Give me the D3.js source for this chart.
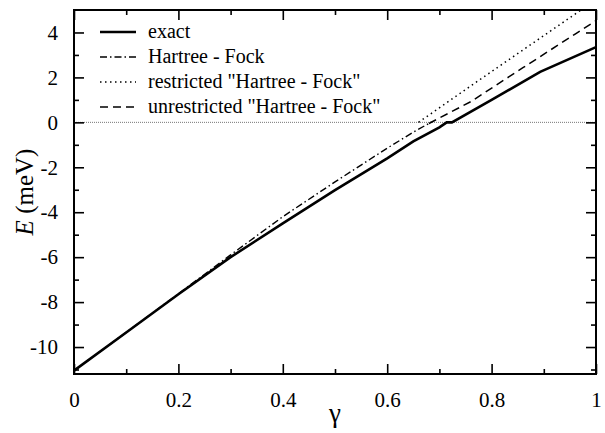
<!DOCTYPE html>
<html><head><meta charset="utf-8">
<script src="https://cdn.jsdelivr.net/npm/d3@7"></script>
<style>
  svg, svg text, svg tspan { font-family: "Liberation Serif", "Times New Roman", Times, serif; }
</style>
</head>
<body style="margin:0">
<svg id="chart" width="605" height="433" font-family="Liberation Serif, serif"></svg>
<script>
// values
var gammaExact = [0, 0.1, 0.2, 0.3, 0.4, 0.5, 0.6, 0.65, 0.7, 0.714, 0.724, 0.8, 0.893, 1.0];
var eExact     = [-11.05, -9.35, -7.65, -6.0, -4.5, -3.02, -1.6, -0.85, -0.22, 0.0, 0.0, 1.0, 2.25, 3.35];

var gammaHF = [0, 0.1, 0.2, 0.3, 0.4, 0.5, 0.6, 0.65, 0.685];
var eHF     = [-11.05, -9.35, -7.63, -5.9, -4.2, -2.65, -1.15, -0.44, 0.02];

var gammaRestricted = [0.66, 0.76, 0.86, 0.96, 1.0];
var eRestricted     = [0.0, 1.62, 3.22, 4.82, 5.45];

var gammaUnrestricted = [0.68, 0.76, 0.86, 0.96, 1.0];
var eUnrestricted     = [-0.05, 0.92, 2.43, 3.93, 4.53];

var xTicks = [0, 0.2, 0.4, 0.6, 0.8, 1];
var xMinor = [0.1, 0.3, 0.5, 0.7, 0.9];
var yTicks = [-10, -8, -6, -4, -2, 0, 2, 4];
var yMinor = [-11, -9, -7, -5, -3, -1, 1, 3];

var legendLabels = ["exact", "Hartree - Fock", "restricted \"Hartree - Fock\"", "unrestricted \"Hartree - Fock\""];

var margin = {top: 10, right: 9, bottom: 59, left: 74},
    width = 605 - margin.left - margin.right,
    height = 433 - margin.top - margin.bottom;

var svg = d3.select("#chart")
  .append("g")
    .attr("transform", "translate(" + margin.left + "," + margin.top + ")");

var x = d3.scaleLinear().domain([0, 1]).range([0, width]);
var y = d3.scaleLinear().domain([-11.2, 5]).range([height, 0]);

// zero line
svg.append("line")
  .attr("x1", 0).attr("x2", width)
  .attr("y1", y(0)).attr("y2", y(0))
  .attr("stroke", "#777")
  .attr("stroke-width", 1)
  .attr("stroke-dasharray", "1,1");

function zip(xs, ys) { return xs.map(function(v, i) { return [v, ys[i]]; }); }

// keep the curves inside the frame
function clipTop(pts) {
  return pts.filter(function(d) { return d[1] <= 5; })
    .concat(pts.filter(function(d) { return d[1] > 5; }).slice(0, 1).map(function(d, i, a) { return d; }));
}

var line = d3.line()
  .x(function(d) { return x(d[0]); })
  .y(function(d) { return Math.max(0, y(d[1])); })
  .defined(function(d) { return y(d[1]) >= -1; });

var series = [
  {pts: zip(gammaExact, eExact), w: 2.6, dash: null},
  {pts: zip(gammaHF, eHF), w: 1.4, dash: "7,3,1.5,3"},
  {pts: zip(gammaRestricted, eRestricted), w: 1.5, dash: "1.5,3.5"},
  {pts: zip(gammaUnrestricted, eUnrestricted), w: 1.5, dash: "8,5"}
];

var curves = svg.append("g");
series.forEach(function(s) {
  curves.append("path")
    .datum(s.pts)
    .attr("fill", "none")
    .attr("stroke", "#000")
    .attr("stroke-width", s.w)
    .attr("stroke-dasharray", s.dash)
    .attr("d", d3.line().x(function(d) { return x(d[0]); }).y(function(d) { return y(d[1]); }));
});
// cover the part of the dotted curve above the frame
svg.append("rect")
  .attr("x", -2).attr("y", -margin.top)
  .attr("width", width + 4).attr("height", margin.top)
  .attr("fill", "#fff");

// axes, ticks pointing inward
var fmt = function(d) { return String(d); };

function styleAxis(g) {
  g.attr("font-family", "Liberation Serif, serif").attr("font-size", 21);
  g.select(".domain").remove();
  g.selectAll("line").attr("stroke", "#000").attr("stroke-width", 1.6);
  g.selectAll("text").attr("fill", "#000");
}

svg.append("g")
  .attr("transform", "translate(0," + height + ")")
  .call(d3.axisBottom(x).tickValues(xTicks).tickSize(-10).tickPadding(18).tickFormat(fmt))
  .call(styleAxis);
svg.append("g")
  .attr("transform", "translate(0," + height + ")")
  .call(d3.axisBottom(x).tickValues(xMinor).tickSize(-5).tickFormat(""))
  .call(styleAxis);
svg.append("g")
  .call(d3.axisTop(x).tickValues(xTicks).tickSize(-10).tickFormat(""))
  .call(styleAxis);
svg.append("g")
  .call(d3.axisTop(x).tickValues(xMinor).tickSize(-5).tickFormat(""))
  .call(styleAxis);

svg.append("g")
  .call(d3.axisLeft(y).tickValues(yTicks).tickSize(-10).tickPadding(16).tickFormat(fmt))
  .call(styleAxis);
svg.append("g")
  .call(d3.axisLeft(y).tickValues(yMinor).tickSize(-5).tickFormat(""))
  .call(styleAxis);
svg.append("g")
  .attr("transform", "translate(" + width + ",0)")
  .call(d3.axisRight(y).tickValues(yTicks).tickSize(-10).tickFormat(""))
  .call(styleAxis);
svg.append("g")
  .attr("transform", "translate(" + width + ",0)")
  .call(d3.axisRight(y).tickValues(yMinor).tickSize(-5).tickFormat(""))
  .call(styleAxis);

// frame
svg.append("rect")
  .attr("width", width).attr("height", height)
  .attr("fill", "none")
  .attr("stroke", "#000")
  .attr("stroke-width", 2);

// axis titles
svg.append("text")
  .attr("x", width / 2)
  .attr("y", height + 48)
  .attr("text-anchor", "middle")
  .attr("font-size", 27)
  .text("γ");

var yl = svg.append("text")
  .attr("transform", "translate(-41," + (height / 2) + ") rotate(-90)")
  .attr("text-anchor", "middle")
  .attr("font-size", 25);
yl.append("tspan").attr("font-style", "italic").text("E");
yl.append("tspan").text(" (meV)");

// legend
var legend = svg.append("g").attr("transform", "translate(26,22)");
series.forEach(function(s, i) {
  var row = legend.append("g").attr("transform", "translate(0," + (i * 25) + ")");
  row.append("line")
    .attr("x1", 0).attr("x2", 36)
    .attr("stroke", "#000")
    .attr("stroke-width", s.w)
    .attr("stroke-dasharray", s.dash);
  row.append("text")
    .attr("x", 48)
    .attr("dy", "0.32em")
    .attr("font-size", 20)
    .text(legendLabels[i]);
});
</script>
</body>
</html>
